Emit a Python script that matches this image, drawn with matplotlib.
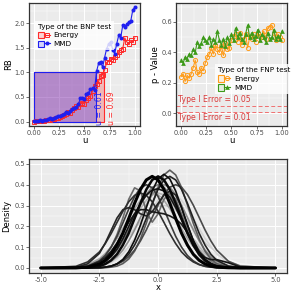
import numpy as np
import matplotlib
matplotlib.use("Agg")
import matplotlib.pyplot as plt
from matplotlib.patches import Rectangle, Patch
from matplotlib.lines import Line2D
from matplotlib.legend_handler import HandlerTuple

# ── data: top panels (u grid, RB and p-values) ───────────────────────────────
U = [0.00, 0.02, 0.04, 0.06, 0.08, 0.10, 0.12, 0.14, 0.16, 0.18,
     0.20, 0.22, 0.24, 0.26, 0.28, 0.30, 0.32, 0.34, 0.36, 0.38,
     0.40, 0.42, 0.44, 0.46, 0.48, 0.50, 0.52, 0.54, 0.56, 0.58,
     0.60, 0.62, 0.64, 0.66, 0.68, 0.70, 0.72, 0.74, 0.76, 0.78,
     0.80, 0.82, 0.84, 0.86, 0.88, 0.90, 0.92, 0.94, 0.96, 0.98, 1.00]

RB_ENERGY = [0.00, 0.01, 0.02, 0.01, 0.02, 0.02, 0.03, 0.04, 0.03, 0.05,
             0.06, 0.08, 0.07, 0.10, 0.12, 0.14, 0.16, 0.20, 0.18, 0.23,
             0.27, 0.31, 0.30, 0.35, 0.38, 0.36, 0.44, 0.48, 0.52, 0.62,
             0.72, 0.76, 0.82, 0.93, 0.95, 1.05, 1.20, 1.22, 1.28, 1.26,
             1.32, 1.35, 1.42, 1.45, 1.48, 1.70, 1.62, 1.58, 1.65, 1.62, 1.70]

RB_MMD = [0.01, 0.02, 0.02, 0.03, 0.02, 0.04, 0.03, 0.05, 0.08, 0.06,
          0.08, 0.09, 0.12, 0.11, 0.14, 0.15, 0.19, 0.18, 0.22, 0.25,
          0.27, 0.30, 0.35, 0.48, 0.47, 0.46, 0.55, 0.58, 0.66, 0.68,
          0.65, 1.02, 1.18, 1.22, 1.10, 1.30, 1.48, 1.58, 1.62, 1.46,
          1.38, 1.58, 1.75, 1.70, 1.96, 1.93, 1.98, 2.02, 2.05, 2.27, 2.32]

U_CUT_MMD = 0.61
U_CUT_ENERGY = 0.69

PV_ENERGY = [0.24, 0.26, 0.21, 0.25, 0.23, 0.26, 0.30, 0.35, 0.27, 0.26,
             0.30, 0.28, 0.33, 0.37, 0.39, 0.43, 0.39, 0.45, 0.42, 0.40,
             0.44, 0.38, 0.46, 0.42, 0.43, 0.48, 0.51, 0.52, 0.47, 0.53,
             0.45, 0.49, 0.52, 0.43, 0.50, 0.49, 0.52, 0.47, 0.53, 0.51,
             0.50, 0.54, 0.49, 0.56, 0.57, 0.58, 0.53, 0.48, 0.52, 0.50, 0.48]

PV_MMD = [0.35, 0.33, 0.37, 0.36, 0.39, 0.38, 0.42, 0.40, 0.47, 0.44,
          0.46, 0.50, 0.48, 0.47, 0.50, 0.45, 0.49, 0.47, 0.54, 0.48,
          0.45, 0.49, 0.44, 0.50, 0.46, 0.52, 0.48, 0.56, 0.50, 0.53,
          0.49, 0.47, 0.52, 0.58, 0.50, 0.53, 0.49, 0.51, 0.55, 0.48,
          0.52, 0.50, 0.47, 0.53, 0.49, 0.50, 0.55, 0.49, 0.51, 0.49, 0.54]

ALPHA_LEVELS = [0.05, 0.01]

# ── data: bottom panel (density curves read on a fixed x grid) ────────────────
XG = [-5, -3.5, -3, -2.5,
      -2.25, -2, -1.75, -1.5, -1.25, -1, -0.75, -0.5, -0.25,
      0,
      0.25, 0.5, 0.75, 1, 1.25, 1.5, 1.75, 2, 2.25,
      2.5, 3, 3.5, 5]

DENS = [
    [.001, .007, .019, .042, .060, .083, .109, .139, .170, .201, .229, .251, .266,
     .27, .266, .251, .229, .201, .170, .139, .109, .083, .060, .042, .019, .007, .001],
    [.001, .005, .013, .032, .047, .067, .092, .121, .154, .189, .223, .254, .279,
     .295, .30, .295, .279, .254, .223, .189, .154, .121, .092, .067, .032, .013, .001],
    [0, .002, .009, .027, .044, .069, .102, .142, .189, .238, .285, .325, .351,
     .36, .351, .325, .285, .238, .189, .142, .102, .069, .044, .027, .009, .002, 0],
    [.001, .009, .020, .040, .053, .069, .088, .108, .129, .150, .170, .188, .201,
     .210, .213, .210, .201, .188, .170, .150, .129, .108, .088, .069, .040, .020, .002],
    [0, .005, .016, .044, .069, .102, .142, .189, .238, .285, .325, .351, .36,
     .351, .325, .285, .238, .189, .142, .102, .069, .044, .027, .016, .005, .001, 0],
    [0, .001, .002, .009, .016, .027, .044, .069, .102, .142, .189, .238, .285,
     .325, .351, .36, .351, .325, .285, .238, .189, .142, .102, .069, .027, .009, 0],
    [0, 0, .002, .009, .018, .032, .054, .086, .130, .183, .243, .302, .353,
     .388, .40, .388, .353, .302, .243, .183, .130, .086, .054, .032, .009, .002, 0],
    [0, .001, .004, .018, .032, .054, .086, .130, .183, .243, .302, .353, .388,
     .40, .388, .353, .302, .243, .183, .130, .086, .054, .032, .018, .004, .001, 0],
    [0, .002, .01, .035, .06, .10, .16, .24, .33, .385, .37, .27, .22,
     .26, .33, .36, .33, .26, .18, .11, .06, .03, .015, .007, .001, 0, 0],
    [0, 0, 0, 0, .001, .004, .009, .021, .043, .081, .139, .215, .303,
     .387, .447, .47, .447, .387, .303, .215, .139, .081, .043, .021, .004, 0, 0],
    [0, 0, 0, .001, .004, .009, .018, .032, .054, .086, .130, .183, .243,
     .302, .353, .388, .40, .388, .353, .302, .243, .183, .130, .086, .032, .009, 0],
    [0, .002, .008, .034, .060, .100, .152, .216, .283, .343, .385, .40, .385,
     .343, .283, .216, .152, .100, .060, .034, .017, .008, .004, .002, 0, 0, 0],
    [0, .008, .029, .077, .117, .165, .219, .272, .318, .349, .36, .349, .318,
     .272, .219, .165, .117, .077, .049, .029, .016, .008, .004, .002, 0, 0, 0],
    [0, .003, .02, .07, .12, .18, .24, .28, .29, .28, .26, .25, .27,
     .31, .35, .37, .35, .29, .21, .13, .07, .035, .015, .006, .001, 0, 0],
    [0, .002, .008, .03, .05, .08, .12, .17, .22, .26, .28, .28, .27,
     .265, .26, .25, .235, .21, .17, .12, .075, .04, .02, .008, .001, 0, 0],
    [0, 0, 0, .002, .004, .009, .019, .037, .066, .110, .167, .238, .311,
     .377, .423, .44, .423, .377, .311, .238, .167, .110, .066, .037, .009, .002, 0],
    [0, .001, .004, .015, .03, .055, .09, .14, .20, .26, .31, .35, .375,
     .38, .37, .34, .29, .23, .17, .115, .075, .05, .04, .04, .025, .005, 0],
    [0, 0, 0, .001, .004, .009, .020, .041, .078, .133, .206, .290, .370,
     .428, .45, .428, .370, .290, .206, .133, .078, .041, .020, .009, .001, 0, 0],
    [0, 0, .002, .009, .019, .037, .066, .110, .167, .238, .311, .377, .423,
     .44, .423, .377, .311, .238, .167, .110, .066, .037, .019, .009, .002, 0, 0],
    [0, .001, .004, .019, .037, .066, .110, .167, .238, .311, .377, .423, .44,
     .423, .377, .311, .238, .167, .110, .066, .037, .019, .009, .004, .001, 0, 0],
]

DENS_GRAYS = ['#e0e0e0', '#cccccc', '#b8b8b8', '#f7f7f7', '#a6a6a6', '#d4d4d4',
              '#8c8c8c', '#7a7a7a', '#6b6b6b', '#5c5c5c', '#4a4a4a', '#3d3d3d',
              '#303030', '#262626', '#1a1a1a', '#222222', '#141414', '#0d0d0d',
              '#080808', '#000000']
DENS_LW = [1.2] * 18 + [1.8, 2.2]

RED = '#FF2A2A'
BLUE = '#1F1FF0'
ORANGE = '#FF9C1A'
GREEN = '#3D9A1A'
TXT = 6.0
TICK = 4.8
LEG = 5.2


def gg_style(ax):
    ax.set_facecolor('#EBEBEB')
    ax.set_axisbelow(True)
    ax.grid(which='major', color='white', lw=0.7)
    ax.grid(which='minor', color='white', lw=0.35)
    for s in ax.spines.values():
        s.set_color('#333333')
        s.set_linewidth(0.9)
    ax.tick_params(which='major', length=2, width=0.5, color='#333333',
                   labelsize=TICK, labelcolor='#4D4D4D', pad=1)
    ax.tick_params(which='minor', length=0)


fig = plt.figure(figsize=(2.91, 2.91), dpi=100)
ax1 = fig.add_axes([0.0997, 0.567, 0.381, 0.423])
ax2 = fig.add_axes([0.605, 0.567, 0.381, 0.423])
ax3 = fig.add_axes([0.0997, 0.062, 0.887, 0.392])

# ── top left: RB of the BNP test ─────────────────────────────────────────────
gg_style(ax1)
ax1.add_patch(Rectangle((0, 0), U_CUT_ENERGY, 1, facecolor=(1, 0, 0, 0.22),
                        edgecolor=RED, lw=0.8, zorder=1))
ax1.add_patch(Rectangle((0, 0), U_CUT_MMD, 1, facecolor=(0, 0, 1, 0.25),
                        edgecolor=BLUE, lw=0.8, zorder=1))
ax1.plot(U, RB_ENERGY, color=RED, lw=0.8, marker='s', ms=3.3, mfc='none',
         mew=0.7, zorder=3)
ax1.plot(U, RB_MMD, color=BLUE, lw=0.8, marker='o', ms=2.9, mew=0, zorder=3)
ax1.text(U_CUT_MMD + 0.035, 0.27, f"u = {U_CUT_MMD:.2f}", color=BLUE,
         rotation=90, fontsize=5.6, ha='center', va='center', zorder=4)
ax1.text(U_CUT_ENERGY + 0.08, 0.27, f"u = {U_CUT_ENERGY:.2f}", color=RED,
         rotation=90, fontsize=5.6, ha='center', va='center', zorder=4)
ax1.set_xlim(-0.05, 1.05)
ax1.set_ylim(-0.09, 2.41)
ax1.set_xticks([0, 0.25, 0.5, 0.75, 1.0])
ax1.set_xticks([0.125, 0.375, 0.625, 0.875], minor=True)
ax1.set_xticklabels(['0.00', '0.25', '0.50', '0.75', '1.00'])
ax1.set_yticks([0, 0.5, 1.0, 1.5, 2.0])
ax1.set_yticks([0.25, 0.75, 1.25, 1.75, 2.25], minor=True)
ax1.set_yticklabels(['0.0', '0.5', '1.0', '1.5', '2.0'])
ax1.set_xlabel('u', fontsize=TXT, labelpad=0)
ax1.set_ylabel('RB', fontsize=TXT, labelpad=1)
h_en = (Patch(facecolor=(1, 0, 0, 0.15), edgecolor=RED, lw=0.8),
        Line2D([], [], color=RED, lw=0.8, marker='s', ms=3.3, mfc='none', mew=0.7))
h_mm = (Patch(facecolor=(0, 0, 1, 0.15), edgecolor=BLUE, lw=0.8),
        Line2D([], [], color=BLUE, lw=0.8, marker='o', ms=2.9, mew=0))
leg = ax1.legend([h_en, h_mm], ['Energy', 'MMD'], title='Type of the BNP test',
                 handler_map={tuple: HandlerTuple(ndivide=None, pad=0)},
                 loc='upper left', bbox_to_anchor=(0.02, 0.885), fontsize=LEG,
                 title_fontsize=LEG, frameon=True, fancybox=False,
                 handlelength=1.7, handleheight=1.0, borderpad=0.4,
                 labelspacing=0.3, handletextpad=0.5)
leg.get_frame().set_facecolor('white')
leg.get_frame().set_edgecolor('none')
leg._legend_box.align = 'left'

# ── top right: p-values of the FNP test ──────────────────────────────────────
gg_style(ax2)
for a in ALPHA_LEVELS:
    ax2.axhline(a, color='#F07070', lw=0.7, ls=(0, (4, 2.5)), zorder=2)
ax2.text(0.33, 0.093, f"Type I Error = {ALPHA_LEVELS[0]:.2f}", color='#D93A3A',
         fontsize=5.6, ha='center', va='center')
ax2.text(0.33, -0.028, f"Type I Error = {ALPHA_LEVELS[1]:.2f}", color='#D93A3A',
         fontsize=5.6, ha='center', va='center')
ax2.plot(U, PV_ENERGY, color=ORANGE, lw=0.8, marker='o', ms=3.0, mfc='none',
         mew=0.7, zorder=3)
ax2.plot(U, PV_MMD, color=GREEN, lw=0.8, marker='^', ms=3.4, mew=0, zorder=3)
ax2.set_xlim(-0.05, 1.05)
ax2.set_ylim(-0.083, 0.725)
ax2.set_xticks([0, 0.25, 0.5, 0.75, 1.0])
ax2.set_xticks([0.125, 0.375, 0.625, 0.875], minor=True)
ax2.set_xticklabels(['0.00', '0.25', '0.50', '0.75', '1.00'])
ax2.set_yticks([0, 0.2, 0.4, 0.6])
ax2.set_yticks([0.1, 0.3, 0.5, 0.7], minor=True)
ax2.set_yticklabels(['0.0', '0.2', '0.4', '0.6'])
ax2.set_xlabel('u', fontsize=TXT, labelpad=0)
ax2.set_ylabel('p - Value', fontsize=TXT, labelpad=1)
h_en2 = (Patch(facecolor=(1, 0.6, 0.1, 0.12), edgecolor=ORANGE, lw=0.8),
         Line2D([], [], color=ORANGE, lw=0.8, marker='o', ms=3.0, mfc='none', mew=0.7))
h_mm2 = (Patch(facecolor=(0.24, 0.6, 0.1, 0.12), edgecolor=GREEN, lw=0.8),
         Line2D([], [], color=GREEN, lw=0.8, marker='^', ms=3.4, mew=0))
leg2 = ax2.legend([h_en2, h_mm2], ['Energy', 'MMD'], title='Type of the FNP test',
                  handler_map={tuple: HandlerTuple(ndivide=None, pad=0)},
                  loc='upper left', bbox_to_anchor=(0.32, 0.53), fontsize=LEG,
                  title_fontsize=LEG, frameon=True, fancybox=False,
                  handlelength=1.7, handleheight=1.0, borderpad=0.4,
                  labelspacing=0.3, handletextpad=0.5)
leg2.get_frame().set_facecolor('white')
leg2.get_frame().set_edgecolor('none')
leg2._legend_box.align = 'left'

# ── bottom: density curves ───────────────────────────────────────────────────
gg_style(ax3)
for ys, col, lw in zip(DENS, DENS_GRAYS, DENS_LW):
    ax3.plot(XG, ys, color=col, lw=lw, solid_capstyle='round',
             solid_joinstyle='round', zorder=2)
ax3.set_xlim(-5.5, 5.5)
ax3.set_ylim(-0.024, 0.524)
ax3.set_xticks([-5, -2.5, 0, 2.5, 5])
ax3.set_xticks([-3.75, -1.25, 1.25, 3.75], minor=True)
ax3.set_xticklabels(['-5.0', '-2.5', '0.0', '2.5', '5.0'])
ax3.set_yticks([0, 0.1, 0.2, 0.3, 0.4, 0.5])
ax3.set_yticks([0.05, 0.15, 0.25, 0.35, 0.45], minor=True)
ax3.set_yticklabels(['0.0', '0.1', '0.2', '0.3', '0.4', '0.5'])
ax3.set_xlabel('x', fontsize=TXT, labelpad=0)
ax3.set_ylabel('Density', fontsize=TXT, labelpad=2)

fig.savefig('out.png', dpi=100)
